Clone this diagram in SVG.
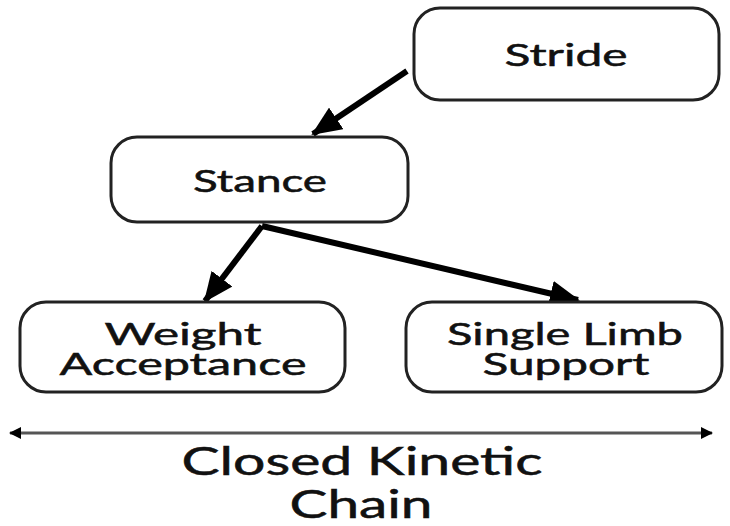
<svg xmlns="http://www.w3.org/2000/svg" width="730" height="526" viewBox="0 0 730 526">
<style>
.box{fill:#fff;stroke:#222;stroke-width:3}
.t{font-family:Lato,"Open Sans",sans-serif;font-size:30px;fill:#111;stroke:#111;stroke-width:0.5;text-anchor:middle}
.big{font-size:38px}
.arr{stroke:#000;stroke-width:6;fill:none}
</style>
<defs>
<marker id="ah" markerUnits="userSpaceOnUse" markerWidth="30" markerHeight="26" refX="28" refY="13" orient="auto">
<path d="M0,0 L30,13 L0,26 Z" fill="#000"/>
</marker>
<marker id="sh" markerUnits="userSpaceOnUse" markerWidth="12" markerHeight="12" refX="11" refY="6" orient="auto-start-reverse">
<path d="M0,0 L12,6 L0,12 Z" fill="#000"/>
</marker>
</defs>
<rect width="730" height="526" fill="#fff"/>
<g id="connectors">
<line class="arr" x1="407" y1="71" x2="313" y2="134" marker-end="url(#ah)"/>
<line class="arr" x1="262" y1="226" x2="205" y2="301" marker-end="url(#ah)"/>
<line class="arr" x1="262" y1="226" x2="578" y2="300" marker-end="url(#ah)"/>
<line x1="10" y1="433" x2="712" y2="433" stroke="#555" stroke-width="3" marker-start="url(#sh)" marker-end="url(#sh)"/>
</g>
<g id="stride">
<rect class="box" x="414" y="8" width="305" height="92" rx="26"/>
<text class="t" x="566" y="66" textLength="123" lengthAdjust="spacingAndGlyphs">Stride</text>
</g>
<g id="stance">
<rect class="box" x="111" y="137" width="297" height="85" rx="26"/>
<text class="t" x="260" y="192" textLength="134" lengthAdjust="spacingAndGlyphs">Stance</text>
</g>
<g id="weight">
<rect class="box" x="20" y="302" width="325" height="90" rx="26"/>
<text class="t" x="183" y="345" textLength="157" lengthAdjust="spacingAndGlyphs">Weight</text>
<text class="t" x="183" y="375" textLength="247" lengthAdjust="spacingAndGlyphs">Acceptance</text>
</g>
<g id="single">
<rect class="box" x="406" y="302" width="316" height="90" rx="26"/>
<text class="t" x="565" y="345" textLength="236" lengthAdjust="spacingAndGlyphs">Single Limb</text>
<text class="t" x="566" y="375" textLength="167" lengthAdjust="spacingAndGlyphs">Support</text>
</g>
<g id="label">
<text class="t big" x="362" y="475" textLength="361" lengthAdjust="spacingAndGlyphs">Closed Kinetic</text>
<text class="t big" x="361" y="518" textLength="143" lengthAdjust="spacingAndGlyphs">Chain</text>
</g>
</svg>
